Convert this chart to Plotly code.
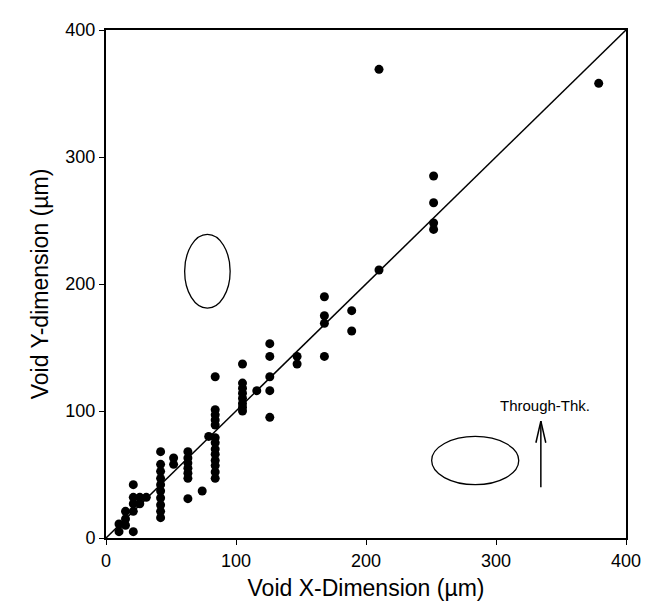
import plotly.graph_objects as go

# Void measurements (um)
x_vals = [10, 10,
          15, 15, 15,
          21, 21, 21, 21, 21,
          26, 26,
          31,
          42, 42, 42, 42, 42, 42, 42, 42, 42, 42,
          52, 52,
          63, 63, 63, 63, 63, 63, 63,
          74,
          79,
          84, 84, 84, 84, 84, 84, 84, 84, 84, 84, 84, 84, 84,
          105, 105, 105, 105, 105, 105, 105, 105,
          116,
          126, 126, 126, 126, 126,
          147, 147,
          168, 168, 168, 168,
          189, 189,
          210, 210,
          252, 252, 252, 252,
          379]
y_vals = [11, 5,
          21, 15, 10,
          42, 32, 27, 21, 5,
          32, 27,
          32,
          16, 21, 26, 31.5, 37, 42, 47, 52.5, 58, 68,
          63, 58,
          68, 63, 59, 55, 51, 47, 31,
          37,
          80,
          47, 52, 57, 61, 66, 70, 75, 79, 89, 93, 97, 101, 127,
          100, 103, 106, 110, 114, 118, 122, 137,
          116,
          153, 143, 127, 116, 95,
          143, 137,
          190, 175, 169, 143,
          179, 163,
          211, 369,
          285, 264, 248, 243,
          358]

diag = [0, 400]
tick_vals = [0, 100, 200, 300, 400]
tick_text = ["0", "100", "200", "300", "400"]

# Ellipse sketches (center x, center y, radius x, radius y)
ell_vert = (78, 210, 17.5, 29)
ell_horz = (284, 61, 33.5, 19)
arrow_x, arrow_y0, arrow_y1 = 334.5, 40, 92
head_dx, head_dy = 3.8, 17

FONT = "Liberation Sans, Arial, sans-serif"

fig = go.Figure()
fig.add_trace(go.Scatter(x=diag, y=diag, mode="lines",
                         line=dict(color="black", width=1.5),
                         hoverinfo="skip", showlegend=False))
fig.add_trace(go.Scatter(x=x_vals, y=y_vals, mode="markers",
                         marker=dict(color="black", size=9),
                         showlegend=False))

for cx, cy, rx, ry in (ell_vert, ell_horz):
    fig.add_shape(type="circle", xref="x", yref="y",
                  x0=cx - rx, x1=cx + rx, y0=cy - ry, y1=cy + ry,
                  line=dict(color="black", width=1.3))

fig.add_shape(type="line", xref="x", yref="y",
              x0=arrow_x, x1=arrow_x, y0=arrow_y0, y1=arrow_y1,
              line=dict(color="black", width=1.5))
for s in (-1, 1):
    fig.add_shape(type="line", xref="x", yref="y",
                  x0=arrow_x, y0=arrow_y1,
                  x1=arrow_x + s * head_dx, y1=arrow_y1 - head_dy,
                  line=dict(color="black", width=1.5))

fig.add_annotation(x=337.5, y=104, xref="x", yref="y",
                   text="Through-Thk.", showarrow=False,
                   font=dict(family=FONT, size=15, color="black"))

axis_common = dict(range=[0, 400], tickvals=tick_vals, ticktext=tick_text,
                   showgrid=False, zeroline=False, showline=True,
                   linecolor="black", linewidth=2, mirror=True,
                   ticks="outside", ticklen=5, tickwidth=1.2, tickcolor="black",
                   tickfont=dict(family=FONT, size=18, color="black"))

fig.update_xaxes(**axis_common,
                 title=dict(text="Void X-Dimension (µm)", standoff=10,
                            font=dict(family=FONT, size=23, color="black")))
fig.update_yaxes(**axis_common,
                 title=dict(text="Void Y-dimension (µm)", standoff=10,
                            font=dict(family=FONT, size=23, color="black")))

fig.update_layout(width=650, height=609,
                  margin=dict(l=98, r=32, t=18, b=79),
                  plot_bgcolor="white", paper_bgcolor="white")

fig.write_html("out.html")
